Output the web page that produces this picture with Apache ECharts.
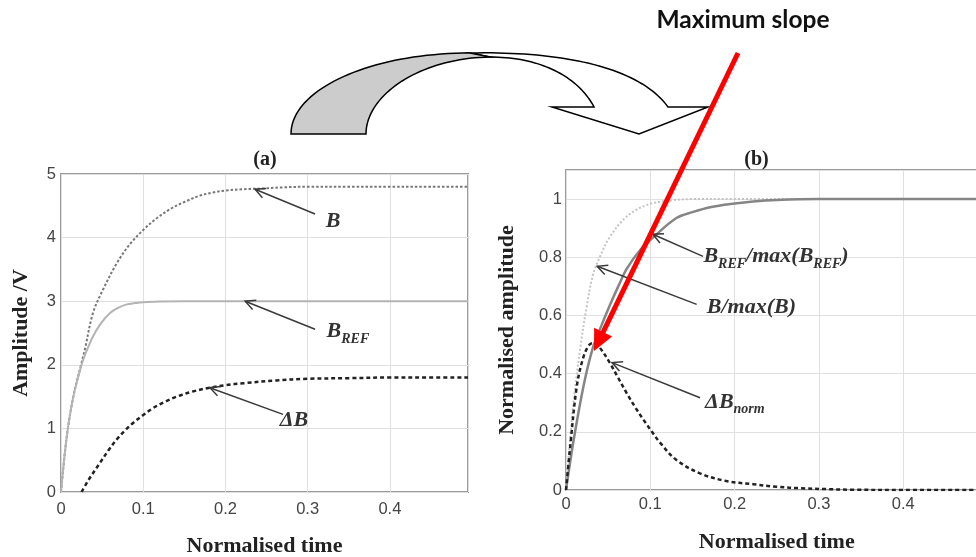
<!DOCTYPE html>
<html>
<head>
<meta charset="utf-8">
<script src="https://cdn.jsdelivr.net/npm/echarts@6/dist/echarts.min.js"></script>
<style>
  html, body { margin: 0; padding: 0; background: #fff; }
  #chart { width: 976px; height: 557px; }
</style>
</head>
<body>
<div id="chart"></div>
<script>
// ---- Panel (a): amplitudes in volts ----
const tB = [0, 0.007, 0.015, 0.025, 0.029, 0.039, 0.051, 0.068, 0.084, 0.1, 0.116, 0.133, 0.15, 0.169, 0.185, 0.2, 0.22, 0.242, 0.27, 0.3, 0.35, 0.4, 0.45, 0.495];
const vB = [0, 0.87, 1.5, 2.03, 2.24, 2.82, 3.18, 3.6, 3.9, 4.12, 4.3, 4.45, 4.56, 4.66, 4.71, 4.74, 4.76, 4.77, 4.79, 4.8, 4.8, 4.8, 4.8, 4.8];

const tBref = [0, 0.007, 0.015, 0.025, 0.029, 0.039, 0.049, 0.06, 0.07, 0.08, 0.09, 0.1, 0.12, 0.15, 0.2, 0.3, 0.4, 0.495];
const vBref = [0, 0.87, 1.5, 2.0, 2.15, 2.45, 2.66, 2.82, 2.9, 2.95, 2.97, 2.985, 2.995, 3, 3, 3, 3, 3];

const tDB = [0.025, 0.035, 0.047, 0.058, 0.068, 0.078, 0.088, 0.1, 0.112, 0.125, 0.141, 0.16, 0.181, 0.2, 0.222, 0.262, 0.3, 0.35, 0.4, 0.45, 0.495];
const vDB = [0, 0.22, 0.45, 0.66, 0.83, 0.97, 1.09, 1.21, 1.32, 1.41, 1.5, 1.58, 1.64, 1.68, 1.71, 1.755, 1.78, 1.79, 1.8, 1.8, 1.8];

// ---- Panel (b): normalised amplitudes ----
const tBn = [0, 0.005, 0.01, 0.017, 0.0245, 0.032, 0.04, 0.052, 0.072, 0.096, 0.123, 0.15, 0.2, 0.3, 0.4, 0.5];
const vBn = [0, 0.18, 0.33, 0.49, 0.63, 0.74, 0.8, 0.87, 0.94, 0.98, 0.995, 1, 1, 1, 1, 1];

const tBrefN = [0, 0.009, 0.021, 0.032, 0.042, 0.052, 0.062, 0.072, 0.088, 0.104, 0.131, 0.15, 0.171, 0.2, 0.222, 0.25, 0.3, 0.4, 0.5];
const vBrefN = [0, 0.17, 0.36, 0.49, 0.565, 0.635, 0.7, 0.76, 0.825, 0.87, 0.935, 0.955, 0.972, 0.985, 0.992, 0.997, 1, 1, 1];

const tDBn = [0, 0.005, 0.013, 0.021, 0.028, 0.034, 0.04, 0.052, 0.062, 0.072, 0.082, 0.092, 0.102, 0.112, 0.131, 0.159, 0.19, 0.222, 0.25, 0.28, 0.31, 0.34, 0.4, 0.5];
const vDBn = [0, 0.15, 0.36, 0.46, 0.5, 0.505, 0.49, 0.437, 0.385, 0.333, 0.285, 0.241, 0.2, 0.161, 0.103, 0.057, 0.031, 0.02, 0.011, 0.006, 0.003, 0.001, 0, 0];

// Axis ticks
const xTicks = [0, 0.1, 0.2, 0.3, 0.4];
const yTicksA = [0, 1, 2, 3, 4, 5];
const yTicksB = [0, 0.2, 0.4, 0.6, 0.8, 1];

const zip = (t, v) => t.map((x, i) => [x, v[i]]);

const SERIF = "'Liberation Serif', 'Times New Roman', serif";
const SANS = "'Liberation Sans', Arial, sans-serif";

const chart = echarts.init(document.getElementById('chart'), null, { renderer: 'canvas' });

const tickLabel = (values) => ({
  fontFamily: SANS, fontSize: 16.5, color: '#444',
  formatter: (v) => {
    const hit = values.find(t => Math.abs(t - v) < 1e-9);
    return hit === undefined ? '' : String(hit);
  }
});

const axisName = { fontFamily: SERIF, fontWeight: 'bold', fontSize: 22, color: '#222' };
const split = { show: true, lineStyle: { color: '#e0e0e0', width: 1 } };

function xAxisFor(grid, max, gap, margin) {
  return {
    type: 'value', gridIndex: grid, min: 0, max: max, interval: 0.1,
    name: 'Normalised time', nameLocation: 'middle', nameGap: gap, nameTextStyle: axisName,
    axisLine: { show: false }, axisTick: { show: false },
    axisLabel: Object.assign(tickLabel(xTicks), { margin: margin, showMaxLabel: false }),
    splitLine: split
  };
}

function line(name, grid, data, color, width, type) {
  return {
    name, type: 'line', xAxisIndex: grid, yAxisIndex: grid, data,
    showSymbol: false, smooth: 0.35, silent: true,
    lineStyle: { color, width, type }, z: 3
  };
}

chart.setOption({
  animation: false,
  backgroundColor: '#ffffff',
  grid: [
    { left: 61, top: 174, width: 407, height: 318, outerBoundsMode: 'none', containLabel: false, show: true, borderColor: '#9a9a9a', borderWidth: 2, backgroundColor: 'transparent' },
    { left: 566, top: 170, width: 421.5, height: 320, outerBoundsMode: 'none', containLabel: false, show: true, borderColor: '#9a9a9a', borderWidth: 2, backgroundColor: 'transparent' }
  ],
  xAxis: [xAxisFor(0, 0.495, 43, 9), xAxisFor(1, 0.5, 41, 6)],
  yAxis: [
    {
      type: 'value', gridIndex: 0, min: 0, max: 5, interval: 1,
      name: 'Amplitude /V', nameLocation: 'middle', nameGap: 29, nameTextStyle: axisName,
      axisLine: { show: false }, axisTick: { show: false },
      axisLabel: Object.assign(tickLabel(yTicksA), { margin: 5 }),
      splitLine: split
    },
    {
      type: 'value', gridIndex: 1, min: 0, max: 1.1, interval: 0.2,
      name: 'Normalised amplitude', nameLocation: 'middle', nameGap: 48, nameTextStyle: axisName,
      axisLine: { show: false }, axisTick: { show: false },
      axisLabel: Object.assign(tickLabel(yTicksB), { margin: 4, showMaxLabel: false }),
      splitLine: split
    }
  ],
  series: [
    line('B', 0, zip(tB, vB), '#777777', 2, [2.5, 2]),
    line('B_REF', 0, zip(tBref, vBref), '#b4b4b4', 2, 'solid'),
    line('ΔB', 0, zip(tDB, vDB), '#222222', 2.5, [4, 3]),
    line('B/max(B)', 1, zip(tBn, vBn), '#c4c4c4', 2, [2, 2]),
    line('B_REF/max(B_REF)', 1, zip(tBrefN, vBrefN), '#858585', 2.5, 'solid'),
    line('ΔB_norm', 1, zip(tDBn, vDBn), '#222222', 2.5, [4, 3])
  ]
});

// ---- Annotations: pointer arrows and curve labels (positions in data units) ----
const pointers = [
  { grid: 0, tail: [0.309, 4.37], tip: [0.236, 4.76], at: [0.322, 4.26], text: '{m|B}' },
  { grid: 0, tail: [0.309, 2.56], tip: [0.224, 3.0], at: [0.323, 2.52], text: '{m|B}{s|REF}' },
  { grid: 0, tail: [0.27, 1.22], tip: [0.181, 1.64], at: [0.266, 1.135], text: '{m|ΔB}' },
  { grid: 1, tail: [0.1625, 0.803], tip: [0.103, 0.879], at: [0.163, 0.803], text: '{m|B}{s|REF}{m|/max(B}{s|REF}{m|)}' },
  { grid: 1, tail: [0.155, 0.638], tip: [0.037, 0.769], at: [0.167, 0.628], text: '{m|B/max(B)}' },
  { grid: 1, tail: [0.159, 0.317], tip: [0.0546, 0.438], at: [0.165, 0.303], text: '{m|ΔB}{s|norm}' }
];

const labelRich = {
  m: { fontFamily: SERIF, fontStyle: 'italic', fontWeight: 'bold', fontSize: 22, fill: '#333', lineHeight: 24 },
  s: { fontFamily: SERIF, fontStyle: 'italic', fontWeight: 'bold', fontSize: 14, fill: '#333', lineHeight: 16, padding: [15, 0, 0, 0] }
};

const graphics = [];
pointers.forEach(p => {
  const a = chart.convertToPixel({ gridIndex: p.grid }, p.tail);
  const b = chart.convertToPixel({ gridIndex: p.grid }, p.tip);
  const dx = b[0] - a[0], dy = b[1] - a[1];
  const len = Math.hypot(dx, dy);
  const ux = dx / len, uy = dy / len;
  const nx = -uy, ny = ux;
  const h = 10, w = 5;
  graphics.push({
    type: 'line', silent: true, z: 20,
    shape: { x1: a[0], y1: a[1], x2: b[0], y2: b[1] },
    style: { stroke: '#3a3a3a', lineWidth: 1.5 }
  });
  graphics.push({
    type: 'polyline', silent: true, z: 20,
    shape: { points: [[b[0] - h * ux + w * nx, b[1] - h * uy + w * ny], b, [b[0] - h * ux - w * nx, b[1] - h * uy - w * ny]] },
    style: { stroke: '#3a3a3a', lineWidth: 1.5, fill: null }
  });
  const c = chart.convertToPixel({ gridIndex: p.grid }, p.at);
  graphics.push({
    type: 'text', silent: true, z: 21, x: c[0], y: c[1],
    style: { text: p.text, rich: labelRich, align: 'left', verticalAlign: 'middle' }
  });
});

// Panel captions
[['(a)', 0, 0.248], ['(b)', 1, 0.226]].forEach(([txt, g, xv]) => {
  const px = chart.convertToPixel({ gridIndex: g }, [xv, 0]);
  graphics.push({
    type: 'text', silent: true, z: 21, x: px[0], y: 160,
    style: { text: txt, fontFamily: SERIF, fontWeight: 'bold', fontSize: 20, fill: '#222', align: 'center', verticalAlign: 'middle' }
  });
});

// Curved transfer arrow between the panels, outlined from cubic segments
function cubic(p0, p1, p2, p3, n) {
  const pts = [];
  for (let i = 0; i <= n; i++) {
    const t = i / n, u = 1 - t;
    pts.push([
      u * u * u * p0[0] + 3 * u * u * t * p1[0] + 3 * u * t * t * p2[0] + t * t * t * p3[0],
      u * u * u * p0[1] + 3 * u * u * t * p1[1] + 3 * u * t * t * p2[1] + t * t * t * p3[1]
    ]);
  }
  return pts;
}
const whiteBand = [].concat(
  cubic([470, 53], [565, 51], [640, 68], [668, 107], 40),
  [[708, 107], [639, 134], [552, 107]],
  cubic([594, 107], [580, 80], [545, 57], [490, 57], 40)
);
const greyBand = [].concat(
  cubic([291, 134], [291, 89], [371, 53], [470, 53], 40),
  cubic([490, 57], [420, 58], [366, 95], [366, 134], 40)
);
graphics.push({
  type: 'polygon', silent: true, z: 30,
  shape: { points: whiteBand },
  style: { fill: '#ffffff', stroke: '#000000', lineWidth: 1.5, lineJoin: 'miter' }
});
graphics.push({
  type: 'polygon', silent: true, z: 31,
  shape: { points: greyBand },
  style: { fill: '#cccccc', stroke: '#000000', lineWidth: 1.5 }
});

// "Maximum slope" call-out with red arrow
const tipX = 594, tipY = 351, tailX = 738, tailY = 53;
(function () {
  const dx = tipX - tailX, dy = tipY - tailY, len = Math.hypot(dx, dy);
  const ux = dx / len, uy = dy / len, nx = -uy, ny = ux;
  const hl = 21, hw = 10;
  const bx = tipX - hl * ux, by = tipY - hl * uy;
  graphics.push({
    type: 'line', silent: true, z: 40,
    shape: { x1: tailX, y1: tailY, x2: bx + 2 * ux, y2: by + 2 * uy },
    style: { stroke: '#ff0000', lineWidth: 5 }
  });
  graphics.push({
    type: 'polygon', silent: true, z: 40,
    shape: { points: [[tipX, tipY], [bx + hw * nx, by + hw * ny], [bx - hw * nx, by - hw * ny]] },
    style: { fill: '#ff0000' }
  });
})();
graphics.push({
  type: 'text', silent: true, z: 40, x: 743, y: 20,
  style: { text: 'Maximum slope', fontFamily: "Lato, 'Open Sans', sans-serif", fontWeight: 'bold', fontSize: 24.5, fill: '#111', align: 'center', verticalAlign: 'middle' }
});

chart.setOption({ graphic: graphics });
</script>
</body>
</html>
